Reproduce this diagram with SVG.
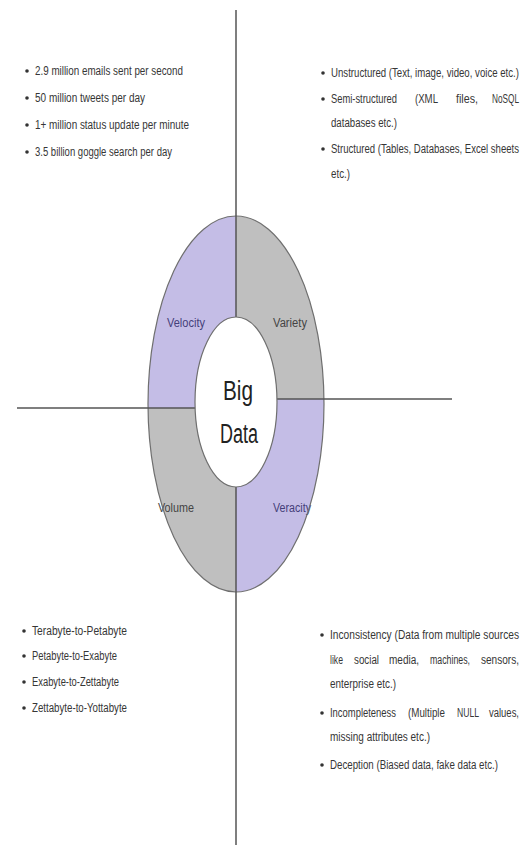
<svg xmlns="http://www.w3.org/2000/svg" width="529" height="853" viewBox="0 0 529 853">
  <style>
    .t { font-family: "Liberation Sans", Arial, sans-serif; font-size: 12.5px; fill: #363636; }
    .lbl { font-family: "Liberation Sans", Arial, sans-serif; font-size: 12.5px; text-anchor: middle; }
    .big { font-family: "Liberation Sans", Arial, sans-serif; font-size: 27px; fill: #222; text-anchor: middle; }
    .conn { stroke: #555; stroke-width: 1.5; fill: none; }
    .purple { fill: #c4bde6; }
    .gray { fill: #bfbfbf; }
    .edge { fill: none; stroke: #6f6f6f; stroke-width: 1.2; }
    .bul { fill: #333; }
  </style>
  <defs>
    <clipPath id="cTL"><rect x="0" y="0" width="236" height="408"/></clipPath>
    <clipPath id="cTR"><rect x="236" y="0" width="293" height="399"/></clipPath>
    <clipPath id="cBL"><rect x="0" y="408" width="236" height="445"/></clipPath>
    <clipPath id="cBR"><rect x="236" y="399" width="293" height="454"/></clipPath>
  </defs>
  <rect width="529" height="853" fill="#fff"/>

  <g id="velocity">
    <ellipse class="purple" cx="236" cy="404" rx="88" ry="188" clip-path="url(#cTL)"/>
    <text class="lbl" x="186" y="327" fill="#45407a" textLength="38" lengthAdjust="spacingAndGlyphs">Velocity</text>
  </g>
  <g id="variety">
    <ellipse class="gray" cx="236" cy="404" rx="88" ry="188" clip-path="url(#cTR)"/>
    <text class="lbl" x="290" y="327" fill="#444" textLength="34" lengthAdjust="spacingAndGlyphs">Variety</text>
  </g>
  <g id="volume">
    <ellipse class="gray" cx="236" cy="404" rx="88" ry="188" clip-path="url(#cBL)"/>
    <text class="lbl" x="176" y="512" fill="#444" textLength="36" lengthAdjust="spacingAndGlyphs">Volume</text>
  </g>
  <g id="veracity">
    <ellipse class="purple" cx="236" cy="404" rx="88" ry="188" clip-path="url(#cBR)"/>
    <text class="lbl" x="292" y="512" fill="#45407a" textLength="38" lengthAdjust="spacingAndGlyphs">Veracity</text>
  </g>
  <ellipse class="edge" cx="236" cy="404" rx="88" ry="188"/>

  <g id="connectors">
    <line class="conn" x1="236" y1="10" x2="236" y2="317"/>
    <line class="conn" x1="236" y1="487" x2="236" y2="845"/>
    <line class="conn" x1="17" y1="408" x2="196" y2="408"/>
    <line class="conn" x1="276" y1="399" x2="452" y2="399"/>
  </g>

  <g id="big-data">
    <ellipse cx="236" cy="402" rx="41" ry="85" fill="#fff" stroke="#6f6f6f" stroke-width="1.2"/>
    <text class="big" x="238" y="400" textLength="30" lengthAdjust="spacingAndGlyphs">Big</text>
    <text class="big" x="239" y="443" textLength="38" lengthAdjust="spacingAndGlyphs">Data</text>
  </g>

  <g id="velocity-notes">
    <circle class="bul" cx="27" cy="71" r="1.8"/>
    <text class="t" x="35" y="75" textLength="148" lengthAdjust="spacingAndGlyphs">2.9 million emails sent per second</text>
    <circle class="bul" cx="27" cy="98" r="1.8"/>
    <text class="t" x="35" y="102" textLength="110" lengthAdjust="spacingAndGlyphs">50 million tweets per day</text>
    <circle class="bul" cx="27" cy="125" r="1.8"/>
    <text class="t" x="35" y="129" textLength="154" lengthAdjust="spacingAndGlyphs">1+ million status update per minute</text>
    <circle class="bul" cx="27" cy="152" r="1.8"/>
    <text class="t" x="35" y="156" textLength="137" lengthAdjust="spacingAndGlyphs">3.5 billion goggle search per day</text>
  </g>

  <g id="variety-notes">
    <circle class="bul" cx="323" cy="73" r="1.8"/>
    <text class="t" x="331" y="77" textLength="188" lengthAdjust="spacingAndGlyphs">Unstructured (Text, image, video, voice etc.)</text>
    <circle class="bul" cx="323" cy="99" r="1.8"/>
    <text class="t" x="331" y="103" textLength="66" lengthAdjust="spacingAndGlyphs">Semi-structured</text>
    <text class="t" x="415" y="103" textLength="23" lengthAdjust="spacingAndGlyphs">(XML</text>
    <text class="t" x="456" y="103" textLength="22" lengthAdjust="spacingAndGlyphs">files,</text>
    <text class="t" x="492" y="103" textLength="27" lengthAdjust="spacingAndGlyphs">NoSQL</text>
    <text class="t" x="331" y="127" textLength="66" lengthAdjust="spacingAndGlyphs">databases etc.)</text>
    <circle class="bul" cx="323" cy="149" r="1.8"/>
    <text class="t" x="331" y="153" textLength="188" lengthAdjust="spacingAndGlyphs">Structured (Tables, Databases, Excel sheets</text>
    <text class="t" x="331" y="178" textLength="19" lengthAdjust="spacingAndGlyphs">etc.)</text>
  </g>

  <g id="volume-notes">
    <circle class="bul" cx="24" cy="631" r="1.8"/>
    <text class="t" x="32" y="635" textLength="95" lengthAdjust="spacingAndGlyphs">Terabyte-to-Petabyte</text>
    <circle class="bul" cx="24" cy="656" r="1.8"/>
    <text class="t" x="32" y="660" textLength="85" lengthAdjust="spacingAndGlyphs">Petabyte-to-Exabyte</text>
    <circle class="bul" cx="24" cy="682" r="1.8"/>
    <text class="t" x="32" y="686" textLength="87" lengthAdjust="spacingAndGlyphs">Exabyte-to-Zettabyte</text>
    <circle class="bul" cx="24" cy="708" r="1.8"/>
    <text class="t" x="32" y="712" textLength="95" lengthAdjust="spacingAndGlyphs">Zettabyte-to-Yottabyte</text>
  </g>

  <g id="veracity-notes">
    <circle class="bul" cx="322" cy="635" r="1.8"/>
    <text class="t" x="330" y="639" textLength="189" lengthAdjust="spacingAndGlyphs">Inconsistency (Data from multiple sources</text>
    <text class="t" x="330" y="664" textLength="13" lengthAdjust="spacingAndGlyphs">like</text>
    <text class="t" x="354" y="664" textLength="25" lengthAdjust="spacingAndGlyphs">social</text>
    <text class="t" x="389" y="664" textLength="30" lengthAdjust="spacingAndGlyphs">media,</text>
    <text class="t" x="430" y="664" textLength="40" lengthAdjust="spacingAndGlyphs">machines,</text>
    <text class="t" x="481" y="664" textLength="38" lengthAdjust="spacingAndGlyphs">sensors,</text>
    <text class="t" x="330" y="688" textLength="66" lengthAdjust="spacingAndGlyphs">enterprise etc.)</text>
    <circle class="bul" cx="322" cy="713" r="1.8"/>
    <text class="t" x="330" y="717" textLength="66" lengthAdjust="spacingAndGlyphs">Incompleteness</text>
    <text class="t" x="408" y="717" textLength="37" lengthAdjust="spacingAndGlyphs">(Multiple</text>
    <text class="t" x="457" y="717" textLength="22" lengthAdjust="spacingAndGlyphs">NULL</text>
    <text class="t" x="489" y="717" textLength="30" lengthAdjust="spacingAndGlyphs">values,</text>
    <text class="t" x="330" y="741" textLength="100" lengthAdjust="spacingAndGlyphs">missing attributes etc.)</text>
    <circle class="bul" cx="322" cy="765" r="1.8"/>
    <text class="t" x="330" y="769" textLength="168" lengthAdjust="spacingAndGlyphs">Deception (Biased data, fake data etc.)</text>
  </g>
</svg>
